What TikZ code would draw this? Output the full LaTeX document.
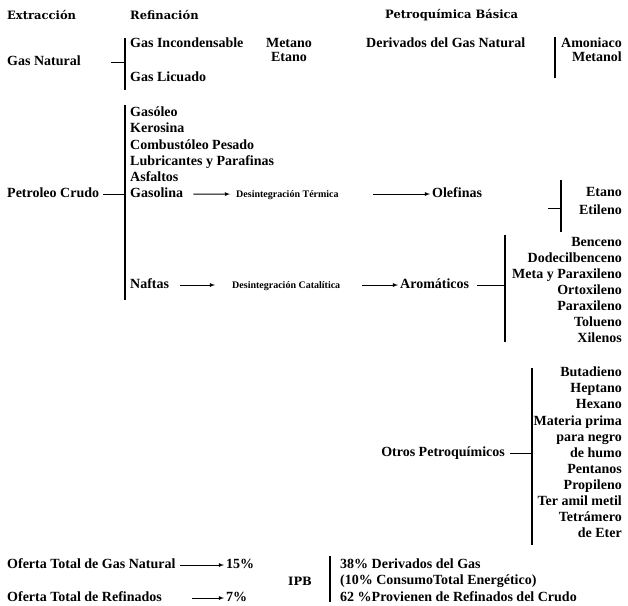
\documentclass[tikz,border=0pt]{standalone}
\usepackage{fontspec}
\setmainfont{Liberation Serif}
\newfontfamily\hdfont{DejaVu Serif}
\usetikzlibrary{matrix,
	calc,
	positioning,
	arrows}
\tikzstyle{tx}=[inner sep=0, anchor=west, text height=10pt, text depth=3pt,
		font=\bfseries\fontsize{14}{16}\selectfont]
\tikzstyle{sm}=[inner sep=0, anchor=west, text height=10pt, text depth=3pt,
		font=\bfseries\fontsize{10}{12}\selectfont]
\tikzstyle{hd}=[inner sep=0, anchor=west, font=\hdfont\bfseries\fontsize{11.5}{13}\selectfont]
\tikzstyle{lst}=[inner sep=0, row sep=3pt]
\tikzstyle{ln}=[line width=1.2pt]
\tikzstyle{th}=[line width=0.8pt]
\tikzstyle{arr}=[line width=0.8pt, ->, >=latex]

\begin{document}
\begin{tikzpicture}[x=1pt,y=-1pt]
                \useasboundingbox (0,0) rectangle (628,605);
                % encabezados
                \node[hd] (ext) at (7,15) {Extracción};
                \node[hd] (refi) at (130,15) {Refinación};
                \node[hd] (pqb) at (385,15) {Petroquímica Básica};
                % gas natural
                \node[tx] (gasnat) at (7,62) {Gas Natural};
                \node[tx] (incond) at (130,44) {Gas Incondensable};
                \node[tx] (licuado) at (130,78) {Gas Licuado};
                \node[tx,anchor=center] (metano) at (289,44) {Metano};
                \node[tx,anchor=center] (etano) at (289,58) {Etano};
                \node[tx] (dergas) at (366,44) {Derivados del Gas Natural};
                \node[tx,anchor=east] (amon) at (622,44) {Amoniaco};
                \node[tx,anchor=east] (metanol) at (622,58) {Metanol};
                \coordinate (b1t) at (125,38);
                \coordinate (b1b) at (125,90);
                \draw[ln] (b1t) -- (b1b);
                \draw[th, shorten <=30pt] (gasnat.east) -- (gasnat.east -| b1t);
                \coordinate (b3t) at (555,37);
                \coordinate (b3b) at (555,78);
                \draw[ln] (b3t) -- (b3b);
                % petroleo crudo
                \node[tx] (crudo) at (7,194) {Petroleo Crudo};
                \matrix (ref) [lst, row sep=3.2pt, anchor=north west] at (130,106.5) {
                    \node[tx] {Gasóleo}; \\
                    \node[tx] {Kerosina}; \\
                    \node[tx] {Combustóleo Pesado}; \\
                    \node[tx] {Lubricantes y Parafinas}; \\
                    \node[tx] {Asfaltos}; \\
                    \node[tx] (gasolina) {Gasolina}; \\
                };
                \node[tx] (naftas) at (130,285) {Naftas};
                \coordinate (b2t) at (125,105);
                \coordinate (b2b) at (125,300);
                \draw[ln] (b2t) -- (b2b);
                \draw[th, shorten <=4pt] (crudo.east) -- (crudo.east -| b2t);
                % desintegracion
                \node[sm] (dterm) at (236,194) {Desintegración Térmica};
                \node[tx] (olef) at (432,194) {Olefinas};
                \draw[arr, shorten <=10pt, shorten >=6pt] (gasolina) -- (dterm);
                \draw[arr, shorten <=34pt, shorten >=2pt] (dterm) -- (olef);
                \node[sm] (dcat) at (232,285) {Desintegración Catalítica};
                \node[tx] (aro) at (400,285) {Aromáticos};
                \draw[arr, shorten <=11pt, shorten >=17pt] (naftas) -- (dcat);
                \draw[arr, shorten <=22pt, shorten >=2pt] (dcat) -- (aro);
                % olefinas
                \node[tx,anchor=east] (etano2) at (622,193) {Etano};
                \node[tx,anchor=east] (etileno) at (622,211) {Etileno};
                \coordinate (b4t) at (561,180);
                \coordinate (b4b) at (561,232);
                \coordinate (b4l) at (548,208);
                \draw[ln] (b4t) -- (b4b);
                \draw[th] (b4l) -- (b4l -| b4t);
                % aromaticos
                \matrix (arol) [lst, anchor=north east] at (622,236.5) {
                    \node[tx,anchor=east] {Benceno}; \\
                    \node[tx,anchor=east] {Dodecilbenceno}; \\
                    \node[tx,anchor=east] {Meta y Paraxileno}; \\
                    \node[tx,anchor=east] {Ortoxileno}; \\
                    \node[tx,anchor=east] {Paraxileno\ }; \\
                    \node[tx,anchor=east] {Tolueno}; \\
                    \node[tx,anchor=east] {Xilenos}; \\
                };
                \coordinate (b5t) at (505,235);
                \coordinate (b5b) at (505,342);
                \draw[ln] (b5t) -- (b5b);
                \draw[th, shorten <=8pt] (aro.east) -- (aro.east -| b5t);
                % otros
                \node[tx,anchor=east] (otros) at (505,453) {Otros Petroquímicos};
                \matrix (otl) [lst, row sep=3.1pt, anchor=north east] at (622,366.5) {
                    \node[tx,anchor=east] {Butadieno}; \\
                    \node[tx,anchor=east] {Heptano}; \\
                    \node[tx,anchor=east] {Hexano}; \\
                    \node[tx,anchor=east] {Materia prima}; \\
                    \node[tx,anchor=east] {para negro}; \\
                    \node[tx,anchor=east] {de humo}; \\
                    \node[tx,anchor=east] {Pentanos\ }; \\
                    \node[tx,anchor=east] {Propileno}; \\
                    \node[tx,anchor=east] {Ter amil metil}; \\
                    \node[tx,anchor=east] {Tetrámero}; \\
                    \node[tx,anchor=east] {de Eter}; \\
                };
                \coordinate (b6t) at (532,368);
                \coordinate (b6b) at (532,545);
                \draw[ln] (b6t) -- (b6b);
                \draw[th, shorten <=5pt] (otros.east) -- (otros.east -| b6t);
                % oferta
                \node[tx] (ofgas) at (7,565) {Oferta Total de Gas Natural};
                \node[tx] (p15) at (226,565) {15\%};
                \node[tx] (ofref) at (7,598) {Oferta Total de Refinados};
                \node[tx] (p7) at (226,598) {7\%};
                \draw[arr, shorten <=4pt, shorten >=2pt] (ofgas) -- (p15);
                \draw[arr, shorten <=30pt, shorten >=2pt] (ofref) -- (p7);
                \node[hd] (ipb) at (288,581) {IPB};
                \coordinate (b7t) at (330,556);
                \coordinate (b7b) at (330,602);
                \draw[ln] (b7t) -- (b7b);
                \node[tx] (ipb1) at (340,565) {38\% Derivados del Gas};
                \node[tx] (ipb2) at (340,581) {(10\% ConsumoTotal Energético)};
                \node[tx] (ipb3) at (340,598) {62 \%Provienen de Refinados del Crudo};
            \end{tikzpicture}
\end{document}
